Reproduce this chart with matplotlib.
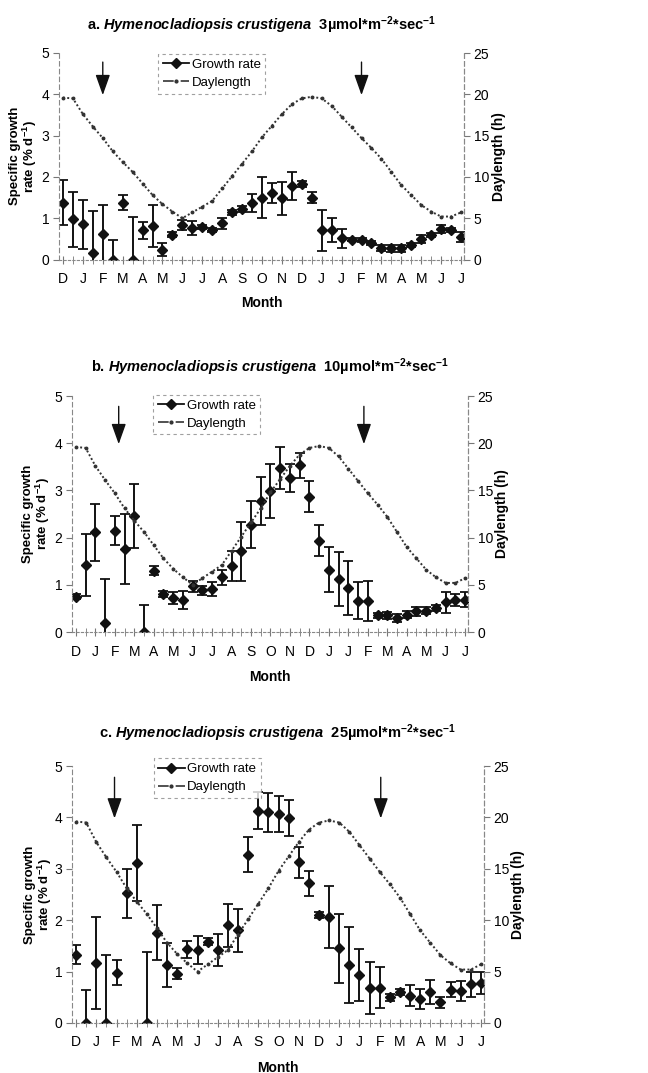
import matplotlib
matplotlib.use("Agg")
import matplotlib.pyplot as plt
from matplotlib import font_manager
from matplotlib.lines import Line2D
import numpy as np

# figure size in pixels (dpi 100)
W, H = 648, 1073

# x axis: one point every half month, a label on every second point
months = ['D', 'J', 'F', 'M', 'A', 'M', 'J', 'J', 'A', 'S', 'O', 'N',
          'D', 'J', 'J', 'F', 'M', 'A', 'M', 'J', 'J']

# daylength (h), same for every panel
daylength = [19.6, 19.5, 17.6, 16.1, 14.7, 13.1, 11.8, 10.6, 9.2, 7.8, 6.7,
             5.8, 5.0, 5.7, 6.4, 7.1, 8.6, 10.1, 11.6, 13.1, 14.8, 16.2,
             17.6, 18.8, 19.5, 19.7, 19.5, 18.6, 17.3, 16.0, 14.7, 13.5,
             12.2, 10.6, 9.0, 7.8, 6.6, 5.8, 5.2, 5.2, 5.7]

# a. 3 umol
growth_a = [1.38, 0.97, 0.85, 0.15, 0.61, 0.0, 1.37, 0.0, 0.71, 0.82, 0.24,
            0.60, 0.84, 0.76, 0.79, 0.72, 0.88, 1.14, 1.22, 1.37, 1.50, 1.62,
            1.48, 1.78, 1.82, 1.50, 0.71, 0.71, 0.51, 0.48, 0.48, 0.41, 0.27,
            0.27, 0.27, 0.35, 0.50, 0.60, 0.74, 0.71, 0.54]
err_a = [0.55, 0.66, 0.60, 1.03, 0.70, 0.47, 0.18, 1.02, 0.21, 0.51, 0.15,
         0.06, 0.12, 0.17, 0.05, 0.05, 0.13, 0.07, 0.07, 0.22, 0.49, 0.24,
         0.40, 0.33, 0.07, 0.13, 0.50, 0.29, 0.22, 0.04, 0.05, 0.05, 0.07,
         0.09, 0.09, 0.04, 0.10, 0.05, 0.09, 0.05, 0.12]

# b. 10 umol
growth_b = [0.75, 1.42, 2.11, 0.19, 2.15, 1.76, 2.46, 0.01, 1.30, 0.80, 0.72,
            0.68, 0.97, 0.88, 0.91, 1.16, 1.39, 1.71, 2.27, 2.78, 2.98, 3.47,
            3.26, 3.53, 2.87, 1.93, 1.32, 1.12, 0.93, 0.66, 0.66, 0.35, 0.35,
            0.30, 0.37, 0.44, 0.45, 0.51, 0.63, 0.68, 0.68]
err_b = [0.05, 0.66, 0.61, 0.93, 0.30, 0.74, 0.67, 0.57, 0.10, 0.06, 0.12,
         0.19, 0.12, 0.10, 0.14, 0.16, 0.32, 0.62, 0.50, 0.51, 0.57, 0.45,
         0.30, 0.27, 0.33, 0.33, 0.48, 0.57, 0.57, 0.39, 0.42, 0.06, 0.07,
         0.08, 0.07, 0.10, 0.07, 0.07, 0.22, 0.13, 0.16]

# c. 25 umol
growth_c = [1.33, 0.0, 1.17, 0.0, 0.98, 2.52, 3.12, 0.0, 1.76, 1.13, 0.96,
            1.43, 1.42, 1.58, 1.42, 1.90, 1.80, 3.27, 4.13, 4.10, 4.07, 3.98,
            3.13, 2.72, 2.10, 2.06, 1.45, 1.12, 0.93, 0.68, 0.69, 0.50, 0.60,
            0.53, 0.47, 0.60, 0.40, 0.65, 0.62, 0.75, 0.78]
err_c = [0.18, 0.65, 0.90, 1.32, 0.25, 0.47, 0.74, 1.38, 0.53, 0.42, 0.11,
         0.17, 0.28, 0.07, 0.32, 0.42, 0.41, 0.34, 0.36, 0.38, 0.35, 0.35,
         0.30, 0.24, 0.06, 0.61, 0.67, 0.74, 0.50, 0.50, 0.40, 0.07, 0.06,
         0.20, 0.20, 0.24, 0.10, 0.15, 0.20, 0.25, 0.22]

# arrows (position on the half-month axis)
arrows_a = [4, 30]
arrows_b = [4.4, 29.6]
arrows_c = [3.8, 30.1]

light = ['3', '10', '25']

# narrow Arial-like font if there is one
names = {f.name for f in font_manager.fontManager.ttflist}
fam = 'Liberation Sans Narrow' if 'Liberation Sans Narrow' in names else 'Liberation Sans'
plt.rcParams['font.family'] = [fam, 'DejaVu Sans']
plt.rcParams['mathtext.fontset'] = 'custom'
plt.rcParams['mathtext.rm'] = fam + ':bold'
plt.rcParams['mathtext.bf'] = fam + ':bold'
plt.rcParams['mathtext.it'] = fam + ':bold:italic'


def px_box(l, r, t, b):
    # pixel box -> figure fraction
    return [l / W, 1 - b / H, (r - l) / W, (b - t) / H]


def draw_panel(fig, box, letter, umol, growth, err, arrows,
               title_y, ylab_x, rlab_x, month_y, leg_anchor):
    l, r, t, b = box
    ax = fig.add_axes(px_box(l, r, t, b))
    x = np.arange(len(growth))

    ax.errorbar(x, growth, yerr=err, fmt='D', color='#111111', ms=5.5,
                ecolor='#111111', elinewidth=1.4, capsize=3.5, capthick=1.3)

    ax.set_xlim(-0.4, 40.3)
    ax.set_ylim(0, 5)
    ax.set_yticks(range(6))
    ax.set_xticks(np.arange(0, 41, 2))
    ax.set_xticklabels(months)
    ax.set_xticks(np.arange(1, 41, 2), minor=True)
    ax.tick_params(axis='x', which='both', direction='inout', length=6,
                   color='#777777', labelsize=10, pad=6)
    ax.tick_params(axis='y', direction='out', length=4, color='#777777',
                   labelsize=10, pad=3)

    ax.spines['top'].set_visible(False)
    ax.spines['left'].set_linestyle((0, (4, 3)))
    ax.spines['right'].set_linestyle((0, (4, 3)))
    ax.spines['bottom'].set_linestyle((0, (2, 2)))
    for side in ['left', 'right', 'bottom']:
        ax.spines[side].set_color('#888888')
        ax.spines[side].set_linewidth(0.8)

    # daylength on the right axis
    ax2 = ax.twinx()
    ax2.plot(x, daylength, linestyle=(0, (1, 1.2)), color='#333333', lw=1.4,
             marker='o', ms=1.8)
    ax2.set_ylim(0, 25)
    ax2.set_yticks(range(0, 26, 5))
    ax2.tick_params(axis='y', direction='out', length=4, color='#777777',
                    labelsize=10, pad=3)
    for side in ['top', 'left', 'bottom']:
        ax2.spines[side].set_visible(False)
    ax2.spines['right'].set_linestyle((0, (4, 3)))
    ax2.spines['right'].set_color('#888888')
    ax2.spines['right'].set_linewidth(0.8)

    # arrows
    for xa in arrows:
        ax.annotate('', xy=(xa, 3.98), xytext=(xa, 4.78),
                    arrowprops=dict(arrowstyle='-|>,head_width=0.32,head_length=0.9',
                                    color='#111111', lw=1.0, mutation_scale=14,
                                    shrinkA=0, shrinkB=0))

    # legend
    handles = [Line2D([], [], color='#111111', marker='D', ms=5, lw=1.3),
               Line2D([], [], color='#333333', linestyle='-.', marker='o',
                      ms=2, lw=1.2)]
    leg = ax2.legend(handles, ['Growth rate', 'Daylength'], loc='upper left',
                     bbox_to_anchor=leg_anchor, fontsize=9.5, frameon=True,
                     fancybox=False, handlelength=2.0, handletextpad=0.2,
                     borderpad=0.35, labelspacing=0.45, borderaxespad=0)
    fr = leg.get_frame()
    fr.set_linestyle((0, (3, 3)))
    fr.set_edgecolor('#888888')
    fr.set_linewidth(0.8)

    # text
    cx = (l + r) / 2 / W
    title = (letter + '. $\\mathit{Hymenocladiopsis\\ crustigena}$  '
             + umol + 'µmol*m$^{-2}$*sec$^{-1}$')
    fig.text(cx, 1 - title_y / H, title, ha='center', va='center',
             fontsize=10.5, fontweight='bold')
    cy = 1 - (t + b) / 2 / H
    fig.text(ylab_x / W, cy, 'Specific growth\nrate (% d$^{-1}$)', rotation=90,
             ha='center', va='center', fontsize=9.5, fontweight='bold',
             linespacing=1.05)
    fig.text(rlab_x / W, cy, 'Daylength (h)', rotation=90, ha='center',
             va='center', fontsize=10, fontweight='bold')
    fig.text(cx, 1 - month_y / H, 'Month', ha='center', va='center',
             fontsize=10, fontweight='bold')


fig = plt.figure(figsize=(W / 100, H / 100), dpi=100)

draw_panel(fig, (59, 464, 53, 259.5), 'a', light[0], growth_a, err_a, arrows_a,
           25, 24, 499, 303, (0.245, 0.995))
draw_panel(fig, (72, 468, 396, 632), 'b', light[1], growth_b, err_b, arrows_b,
           367, 37, 502, 677, (0.205, 1.005))
draw_panel(fig, (72, 484, 766, 1023), 'c', light[2], growth_c, err_c, arrows_c,
           733, 39, 518, 1068, (0.198, 1.03))

fig.savefig('out.png', dpi=100)
